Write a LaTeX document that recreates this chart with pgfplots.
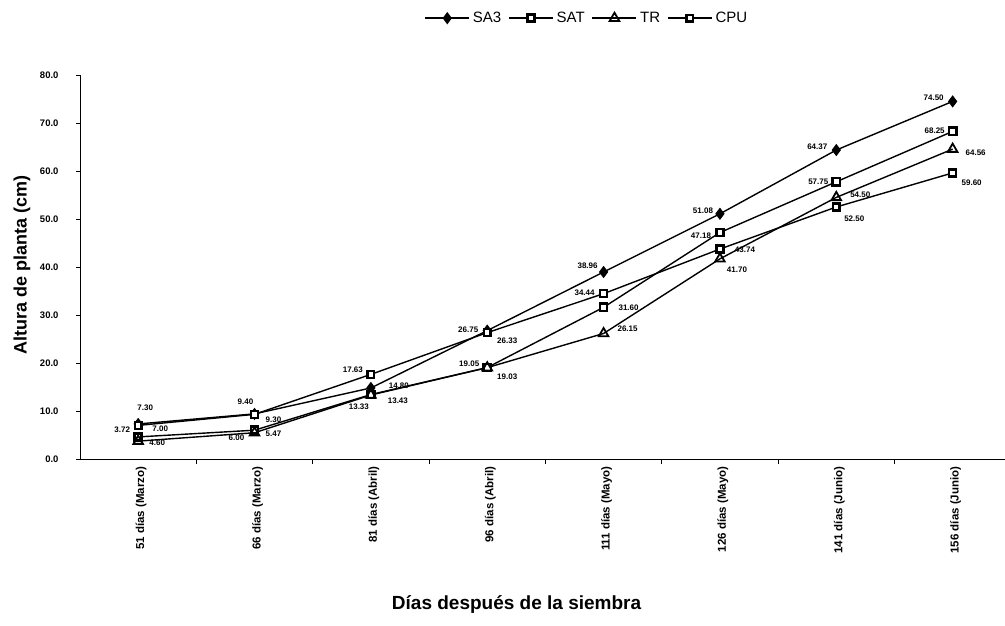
\documentclass[border=0pt]{standalone}
\usepackage{pgfplots}
\pgfplotsset{compat=1.18}
\usepackage{pgfplotstable}
\usepackage{fontspec}
\setmainfont{Liberation Sans}

% Plant height (cm) per sampling date; dx/dy place each value label
\pgfplotstableread{
x y dx dy
0 7.30 7 16
1 9.40 -9 12
2 14.80 28 2
3 26.75 -19 1
4 38.96 -16 6
5 51.08 -17 3
6 64.37 -19 3
7 74.50 -19 4
}\tabSAiii

\pgfplotstableread{
x y dx dy
0 4.60 19 -6
1 6.00 -18 -8
2 13.43 27 -6
3 19.05 -18 4
4 31.60 25 0
5 47.18 -19 -3
6 57.75 -18 0
7 68.25 -18 1
}\tabSAT

\pgfplotstableread{
x y dx dy
0 3.72 -16 11
1 5.47 19 -1
2 13.33 -12 -12
3 19.03 20 -9
4 26.15 24 5
5 41.70 17 -11
6 54.50 24 3
7 64.56 23 -4
}\tabTR

\pgfplotstableread{
x y dx dy
0 7.00 22 -3
1 9.30 19 -5
2 17.63 -18 5
3 26.33 20 -8
4 34.44 -19 1
5 43.74 25 -1
6 52.50 18 -12
7 59.60 19 -10
}\tabCPU

\newcommand\lblfont{\bfseries\fontsize{8}{9}\selectfont}

\pgfplotsset{
  lbl/.style={
    point meta=explicit,
    nodes near coords={\pgfmathprintnumber[fixed,fixed zerofill,precision=2,assume math mode=true]{\pgfplotspointmeta}},
    visualization depends on={\thisrow{dx}\as\lblx},
    visualization depends on={\thisrow{dy}\as\lbly},
    every node near coord/.append style={anchor=center, xshift=\lblx pt,
      yshift=\lbly pt, font=\lblfont, inner sep=0pt, text=black},
  },
}

\begin{document}
\begin{tikzpicture}
\useasboundingbox (0,0) rectangle (1005pt,626pt);
\begin{axis}[
  at={(80pt,167pt)}, anchor=south west,
  width=925pt, height=384pt, scale only axis,
  clip=false,
  xmin=-0.5, xmax=7.45,
  ymin=0, ymax=80,
  axis lines=left,
  axis line style={-, line width=0.8pt, black},
  xtick={0,...,7},
  xticklabels={51 días (Marzo),66 días (Marzo),81 días (Abril),96 días (Abril),
    111 días (Mayo),126 días (Mayo),141 días (Junio),156 días (Junio)},
  minor xtick={0.5,1.5,...,6.5},
  major x tick style={draw=none},
  minor x tick style={black, line width=0.8pt},
  minor tick length=5pt,
  major tick length=4pt,
  tick align=outside,
  ytick={0,10,...,80},
  y tick style={black, line width=0.8pt},
  xticklabel style={rotate=90, anchor=east, font=\bfseries\fontsize{11.5}{12}\selectfont,
    yshift=-3pt},
  yticklabel style={font=\bfseries\fontsize{9.5}{10}\selectfont, xshift=-14pt,
    /pgf/number format/.cd, fixed, fixed zerofill, precision=1, assume math mode=true},
  xlabel={Días después de la siembra},
  ylabel={Altura de planta (cm)},
  every axis x label/.style={at={(axis description cs:0.472,-0.380)}, anchor=center,
    font=\bfseries\fontsize{19}{21}\selectfont},
  every axis y label/.style={at={(axis description cs:-0.0627,0.505)}, anchor=center,
    rotate=90, font=\bfseries\fontsize{18}{20}\selectfont},
  legend columns=4,
  legend style={at={(axis description cs:0.548,1.148)}, anchor=center, draw=none,
    fill=none, font=\fontsize{15}{16}\selectfont,
    /tikz/every even column/.append style={column sep=5pt},
    /tikz/every odd column/.append style={column sep=1pt}},
  legend image code/.code={
    \draw[mark repeat=2, mark phase=2] plot coordinates {(0pt,0pt) (22pt,0pt) (44pt,0pt)};},
  every axis plot/.append style={black, line width=1.4pt},
]
\addplot[mark=diamond*, mark size=5.5pt, mark options={fill=black, line width=0.8pt}, lbl]
  table[x=x, y=y, meta=y] {\tabSAiii};
\addlegendentry{SA3}
\addplot[mark=square*, mark size=3.6pt, mark options={fill=white, line width=2.6pt}, lbl]
  table[x=x, y=y, meta=y] {\tabSAT};
\addlegendentry{SAT}
\addplot[mark=triangle, mark size=5.5pt, mark options={line width=1.8pt}, lbl]
  table[x=x, y=y, meta=y] {\tabTR};
\addlegendentry{TR}
\addplot[mark=square*, mark size=3.4pt, mark options={fill=white, line width=2.4pt}, lbl]
  table[x=x, y=y, meta=y] {\tabCPU};
\addlegendentry{CPU}
\end{axis}
\end{tikzpicture}
\end{document}
